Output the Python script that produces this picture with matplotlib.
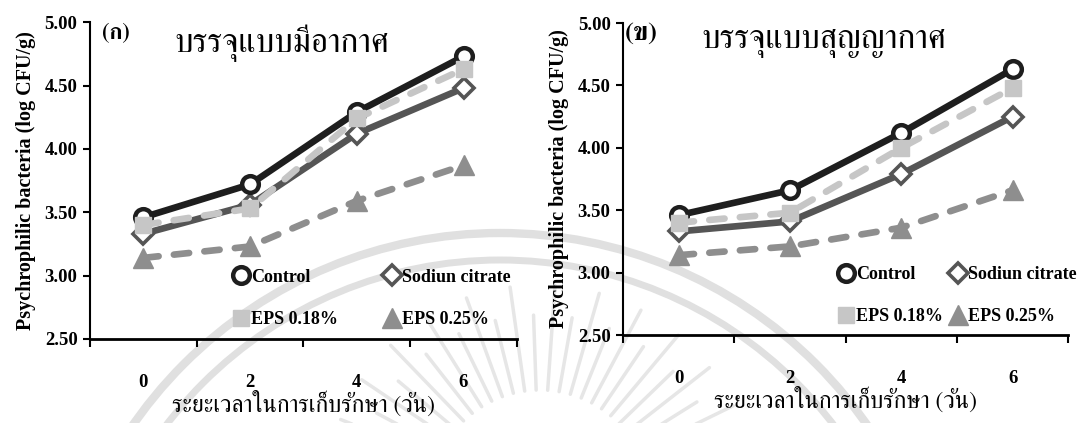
import numpy as np
import matplotlib
matplotlib.use('Agg')
import matplotlib.pyplot as plt
from matplotlib import font_manager
from matplotlib.ft2font import FT2Font
from matplotlib.lines import Line2D
from matplotlib.patches import Arc

# storage days and counts (log CFU/g)
days = ['0', '2', '4', '6']
series = ['Control', 'Sodiun citrate', 'EPS 0.18%', 'EPS 0.25%']

air_control = [3.46, 3.72, 4.29, 4.73]
air_citrate = [3.33, 3.56, 4.12, 4.48]
air_eps018 = [3.40, 3.53, 4.24, 4.63]
air_eps025 = [3.14, 3.23, 3.59, 3.87]

vac_control = [3.46, 3.66, 4.12, 4.63]
vac_citrate = [3.33, 3.41, 3.79, 4.25]
vac_eps018 = [3.40, 3.48, 4.00, 4.48]
vac_eps025 = [3.14, 3.21, 3.36, 3.66]

title_air = 'บรรจุแบบมีอากาศ'
title_vac = 'บรรจุแบบสุญญากาศ'
xlabel = 'ระยะเวลาในการเก็บรักษา (วัน)'
ylabel = 'Psychrophilic bacteria (log CFU/g)'


def find_thai_font():
    found = []
    for f in font_manager.fontManager.ttflist:
        try:
            if FT2Font(f.fname).get_char_index(0x0E1A):
                found.append(f.name)
        except Exception:
            pass
    for name in found:
        if 'Serif' in name:
            return name
    return found[0] if found else 'DejaVu Sans'


thai = find_thai_font()
serif = 'Liberation Serif'
thai_fam = [thai, serif, 'DejaVu Sans']

styles = [
    dict(color='#1e1e1e', marker='o', ms=12, mfc='white', mec='#1e1e1e', mew=3.2, ls='-', z=4),
    dict(color='#555555', marker='D', ms=10, mfc='white', mec='#555555', mew=2.6, ls='-', z=3),
    dict(color='#c6c6c6', marker='s', ms=12, mfc='#c6c6c6', mec='#c6c6c6', mew=1, ls='--', z=5),
    dict(color='#8e8e8e', marker='^', ms=14, mfc='#8e8e8e', mec='#8e8e8e', mew=1, ls='--', z=2),
]

fig = plt.figure(figsize=(10.78, 4.23), dpi=100)
fig.patch.set_facecolor('white')

# faint seal in the background
bg = fig.add_axes([0, 0, 1, 1], zorder=-1)
bg.set_xlim(0, 1078)
bg.set_ylim(423, 0)
bg.axis('off')
for r, lw in [(447, 6), (420, 5)]:
    bg.add_patch(Arc((500, 680), 2 * r, 2 * r, theta1=180, theta2=360,
                     color='#e0e0e0', lw=lw))
for k, ang in enumerate(np.arange(14, 170, 6)):
    a = np.deg2rad(ang)
    r1, r2 = 110, (215 if k % 2 == 0 else 185)
    bg.plot([540 + r1 * np.cos(a), 540 + r2 * np.cos(a)],
            [500 - r1 * np.sin(a), 500 - r2 * np.sin(a)],
            color='#e6e6e6', lw=2.5, solid_capstyle='round')


def draw_panel(rect, data, tag, tag_x, tag_size, title, leg_anchor, colsp):
    ax = fig.add_axes(rect)
    ax.patch.set_facecolor('none')
    x = np.arange(len(days))
    order = [3, 1, 0, 2]
    for i in order:
        s = styles[i]
        ln, = ax.plot(x, data[i], color=s['color'], lw=4.8, ls=s['ls'],
                      marker=s['marker'], ms=s['ms'], mfc=s['mfc'], mec=s['mec'],
                      mew=s['mew'], zorder=s['z'], clip_on=False,
                      dash_capstyle='round', solid_capstyle='round')
        if s['ls'] == '--':
            ln.set_dashes((2.3, 2.3))
    ax.set_xlim(-0.5, 3.5)
    ax.set_ylim(2.5, 5.0)
    ax.spines['top'].set_visible(False)
    ax.spines['right'].set_visible(False)
    ax.spines['left'].set_linewidth(1.5)
    ax.spines['bottom'].set_linewidth(2.0)
    ax.set_yticks(np.arange(2.5, 5.01, 0.5))
    ax.set_yticklabels(['%.2f' % v for v in np.arange(2.5, 5.01, 0.5)],
                       fontfamily=serif, fontweight='bold', fontsize=13.5)
    ax.set_xticks(np.arange(-0.5, 3.6, 1.0))
    ax.set_xticklabels([])
    ax.set_xticks(x, minor=True)
    ax.set_xticklabels(days, minor=True, fontfamily=serif, fontweight='bold', fontsize=13.5)
    ax.tick_params(axis='x', which='major', direction='out', length=6, width=1.5)
    ax.tick_params(axis='x', which='minor', length=0, pad=25)
    ax.tick_params(axis='y', direction='out', length=5, width=1.5, pad=4)
    ax.set_xlabel(xlabel, family=thai_fam, fontsize=17, labelpad=0)
    ax.set_ylabel(ylabel, family=serif, fontweight='bold', fontsize=14.5, labelpad=6)
    ax.text(tag_x, 0.965, tag, transform=ax.transAxes, family=thai_fam,
            fontsize=tag_size, fontweight='bold', ha='center', va='center')
    ax.text(0.45, 0.935, title, transform=ax.transAxes, family=thai_fam,
            fontsize=24, ha='center', va='center')

    handles = [Line2D([], [], ls='none', marker=styles[i]['marker'], ms=styles[i]['ms'],
                      mfc=styles[i]['mfc'], mec=styles[i]['mec'], mew=styles[i]['mew'])
               for i in [0, 2, 1, 3]]
    labels = [series[i] for i in [0, 2, 1, 3]]
    ax.legend(handles, labels, ncol=2, loc='upper left', bbox_to_anchor=leg_anchor,
              frameon=False, handlelength=0.8, handletextpad=0.15, borderpad=0,
              labelspacing=1.4, columnspacing=colsp,
              prop=dict(family=serif, weight='bold', size=13))
    return ax


draw_panel([0.0835, 0.1986, 0.396, 0.749],
           [air_control, air_citrate, air_eps018, air_eps025],
           '(ก)', 0.06, 16, title_air, (0.315, 0.25), 2.6)
draw_panel([0.578, 0.208, 0.413, 0.7376],
           [vac_control, vac_citrate, vac_eps018, vac_eps025],
           '(ข)', 0.04, 19, title_vac, (0.465, 0.25), 0.4)

fig.savefig('out.png', dpi=100, facecolor='white')
